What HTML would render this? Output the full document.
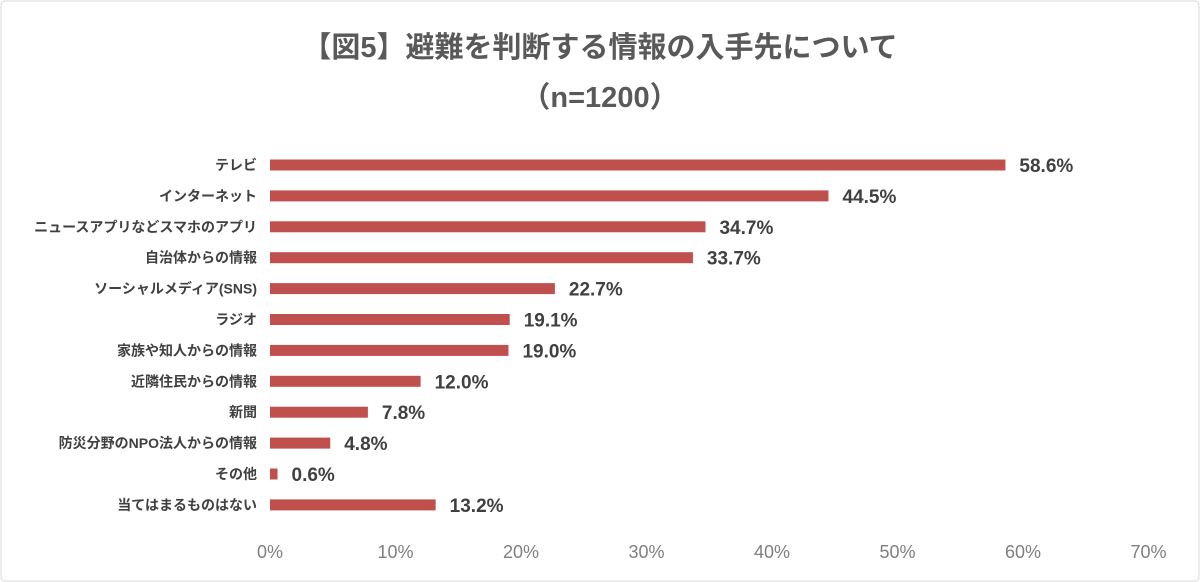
<!DOCTYPE html>
<html><head><meta charset="utf-8">
<style>
body{margin:0;background:#fff;}
#wrap{position:relative;width:1200px;height:582px;overflow:hidden;}
svg text{font-family:"Liberation Sans","Noto Sans CJK JP",sans-serif;}
</style></head>
<body><div id="wrap">
<svg id="chart" width="1200" height="582">
<rect x="1" y="1" width="1198" height="580" rx="4" fill="#fff" stroke="#d9d9d9" stroke-width="1"/>
<text x="600" y="57" text-anchor="middle" font-size="29" font-weight="bold" fill="#595959">【図5】避難を判断する情報の入手先について</text>
<text x="600" y="107" text-anchor="middle" font-size="29" font-weight="bold" fill="#595959">（n=1200）</text>
</svg></div>
<script>
const categories=["テレビ","インターネット","ニュースアプリなどスマホのアプリ","自治体からの情報","ソーシャルメディア(SNS)","ラジオ","家族や知人からの情報","近隣住民からの情報","新聞","防災分野のNPO法人からの情報","その他","当てはまるものはない"];
const values=[58.6,44.5,34.7,33.7,22.7,19.1,19.0,12.0,7.8,4.8,0.6,13.2];
const ticks=[0,10,20,30,40,50,60,70];
const NS="http://www.w3.org/2000/svg";
const svg=document.getElementById('chart');
const x=v=>270+v*12.55;
const y=i=>165+i*30.9;
function mk(t,a){const e=document.createElementNS(NS,t);for(const k in a)e.setAttribute(k,a[k]);svg.appendChild(e);return e;}
ticks.forEach(t=>{
  const e=mk('text',{x:x(t),y:558,'text-anchor':'middle','font-size':'18',fill:'#7f7f7f'});
  e.textContent=t+'%';
  
  
});
categories.forEach((c,i)=>{
  const l=mk('text',{x:257,y:y(i)+5,'text-anchor':'end','font-size':'14','font-weight':'bold',fill:'#404040'});
  l.textContent=c;
  
  
  const b=mk('rect',{x:x(0),y:y(i)-5.5,width:x(values[i])-x(0),height:11,fill:'#c0504d'});
  
  
  const v=mk('text',{x:x(values[i])+14,y:y(i)+7,'font-size':'19',fill:'#404040','font-weight':'bold'});
  v.textContent=values[i].toFixed(1)+'%';
  
  
});
</script>
</body></html>
